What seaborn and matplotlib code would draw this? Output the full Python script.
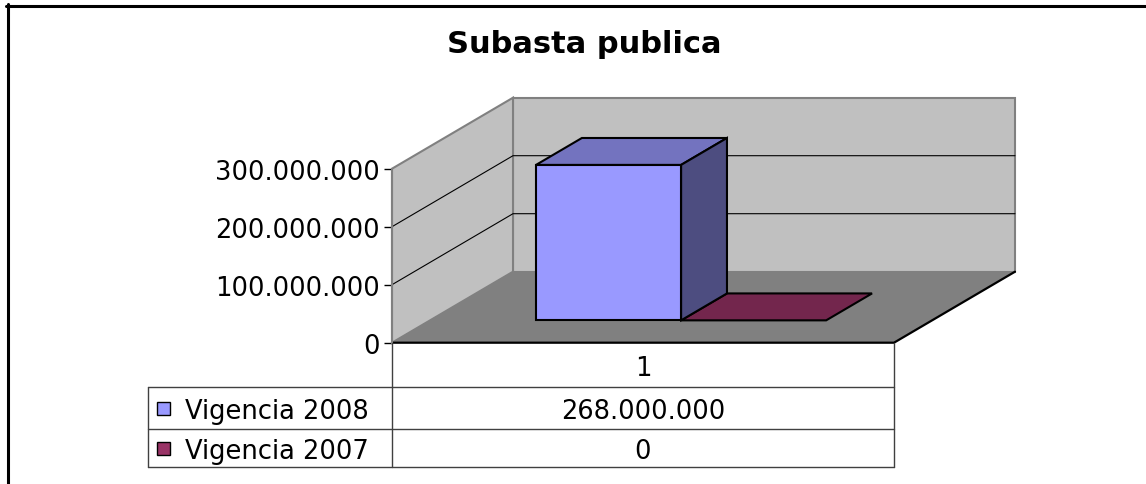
import matplotlib
matplotlib.use("Agg")
import numpy as np
import pandas as pd
import matplotlib.pyplot as plt
import seaborn as sns
from matplotlib.patches import Polygon, Rectangle
from matplotlib.lines import Line2D

# Datos del grafico
titulo = "Subasta publica"
categorias = ["1"]
series = ["Vigencia 2008", "Vigencia 2007"]
valores_2008 = [268000000]
valores_2007 = [0]
ticks_y = [0, 100000000, 200000000, 300000000]
colores = ["#9999FF", "#993366"]


def fmt(v):
    return f"{v:,}".replace(",", ".")


df = pd.DataFrame({
    "categoria": categorias * 2,
    "serie": [series[0]] * len(categorias) + [series[1]] * len(categorias),
    "valor": valores_2008 + valores_2007,
})

sns.set_style("white")
plt.rcParams["font.family"] = ["DejaVu Sans"]
plt.rcParams["text.color"] = "black"
plt.rcParams["ytick.labelcolor"] = "black"

W, H = 1146, 485
fig = plt.figure(figsize=(W / 100, H / 100), dpi=100)


def fx(x):
    return x / W


def fy(y):
    return 1 - y / H


# ejes = plano frontal del grafico 3D
ax_l, ax_r, ax_t, ax_b = 392, 894, 169.7, 343.7
ax = fig.add_axes([fx(ax_l), fy(ax_b), (ax_r - ax_l) / W, (ax_b - ax_t) / H])
sns.barplot(data=df, x="categoria", y="valor", hue="serie", palette=colores,
            width=0.578, saturation=1, legend=False, ax=ax)
bars = list(ax.patches)

x0, x1 = -0.5, 0.5
ytop = ticks_y[-1]
ax.set_xlim(x0, x1)
ax.set_ylim(0, ytop)
ax.patch.set_visible(False)

# profundidad (pixeles) pasada a unidades de datos
dvx = 121 * (x1 - x0) / (ax_r - ax_l)
dvy = 71 * ytop / (ax_b - ax_t)

# paredes y piso
ax.add_patch(Rectangle((x0 + dvx, dvy), x1 - x0, ytop, fc="#C0C0C0", ec="#808080",
                       lw=1.5, zorder=0.4, clip_on=False))
ax.add_patch(Polygon([(x0, 0), (x0 + dvx, dvy), (x0 + dvx, ytop + dvy), (x0, ytop)],
                     fc="#C0C0C0", ec="#808080", lw=1.5, zorder=0.45, clip_on=False))
ax.add_patch(Polygon([(x0, 0), (x1, 0), (x1 + dvx, dvy), (x0 + dvx, dvy)],
                     fc="#808080", ec="none", zorder=0.5, clip_on=False))
for v in ticks_y[1:-1]:
    ax.plot([x0, x0 + dvx, x1 + dvx], [v, v + dvy, v + dvy], color="black", lw=0.8,
            zorder=0.6, clip_on=False)
ax.plot([x0, x1, x1 + dvx], [0, 0, dvy], color="black", lw=1.6, zorder=0.7, clip_on=False)

# caras 3D de las barras
f0, f1 = 0.315, 0.694
for i, p in enumerate(bars):
    x, w, h = p.get_x(), p.get_width(), p.get_height()
    fc = np.array(p.get_facecolor()[:3])
    z = 3 + len(bars) - i
    xf, yf = x + f0 * dvx, f0 * dvy
    xb, yb = x + f1 * dvx, f1 * dvy
    p.set_x(xf)
    p.set_y(yf)
    p.set_edgecolor("black")
    p.set_linewidth(1.5)
    p.set_zorder(z)
    p.set_clip_on(False)
    ax.add_patch(Polygon([(xf, yf + h), (xf + w, yf + h), (xb + w, yb + h), (xb, yb + h)],
                         fc=fc * 0.75, ec="black", lw=1.5, zorder=z, clip_on=False))
    if h > 0:
        ax.add_patch(Polygon([(xf + w, yf), (xb + w, yb), (xb + w, yb + h), (xf + w, yf + h)],
                             fc=fc * 0.5, ec="black", lw=1.5, zorder=z, clip_on=False))

# ejes y marcas
ax.set_yticks(ticks_y, [fmt(t) for t in ticks_y])
ax.set_xticks([])
ax.set_xlabel("")
ax.set_ylabel("")
ax.tick_params(axis="y", left=True, length=6, width=1, color="black", labelsize=18.5,
               labelcolor="black", pad=3)
for s in ["top", "right", "bottom"]:
    ax.spines[s].set_visible(False)
ax.spines["left"].set_color("#808080")
ax.spines["left"].set_linewidth(1.5)
ax.spines["left"].set_zorder(0.8)

# titulo
fig.text(fx(584), fy(53), titulo, ha="center", va="baseline", fontsize=22,
         fontweight="bold", color="black")

# marco exterior (solo visible arriba e izquierda)
fig.add_artist(Line2D([fx(7.5), fx(7.5)], [fy(5.4), fy(H + 5)], color="black", lw=2.2))
fig.add_artist(Line2D([fx(6.4), fx(W + 5)], [fy(6.5), fy(6.5)], color="black", lw=2.2))

# tabla de datos
tc = "#404040"
filas = [388, 430, 468]
for yy in filas:
    fig.add_artist(Line2D([fx(148), fx(ax_r)], [fy(yy), fy(yy)], color=tc, lw=1))
fig.add_artist(Line2D([fx(148), fx(148)], [fy(388), fy(468)], color=tc, lw=1))
fig.add_artist(Line2D([fx(ax_l), fx(ax_l)], [fy(ax_b), fy(468)], color=tc, lw=1))
fig.add_artist(Line2D([fx(ax_r), fx(ax_r)], [fy(ax_b), fy(468)], color=tc, lw=1))

xc = (ax_l + ax_r) / 2
fig.text(fx(xc), fy(366), categorias[0], ha="center", va="center_baseline", fontsize=18.5,
         color="black")
centros = [409, 449]
for nombre, vals, col, yc in zip(series, [valores_2008, valores_2007], colores, centros):
    fig.text(fx(xc), fy(yc), fmt(vals[0]), ha="center", va="center_baseline", fontsize=18.5,
             color="black")
    fig.add_artist(Rectangle((fx(157), fy(yc + 6.5)), 13 / W, 13 / H, fc=col, ec="black", lw=1))
    fig.text(fx(185), fy(yc), nombre, ha="left", va="center_baseline", fontsize=18.5,
             color="black")

fig.savefig("out.png", dpi=100)
